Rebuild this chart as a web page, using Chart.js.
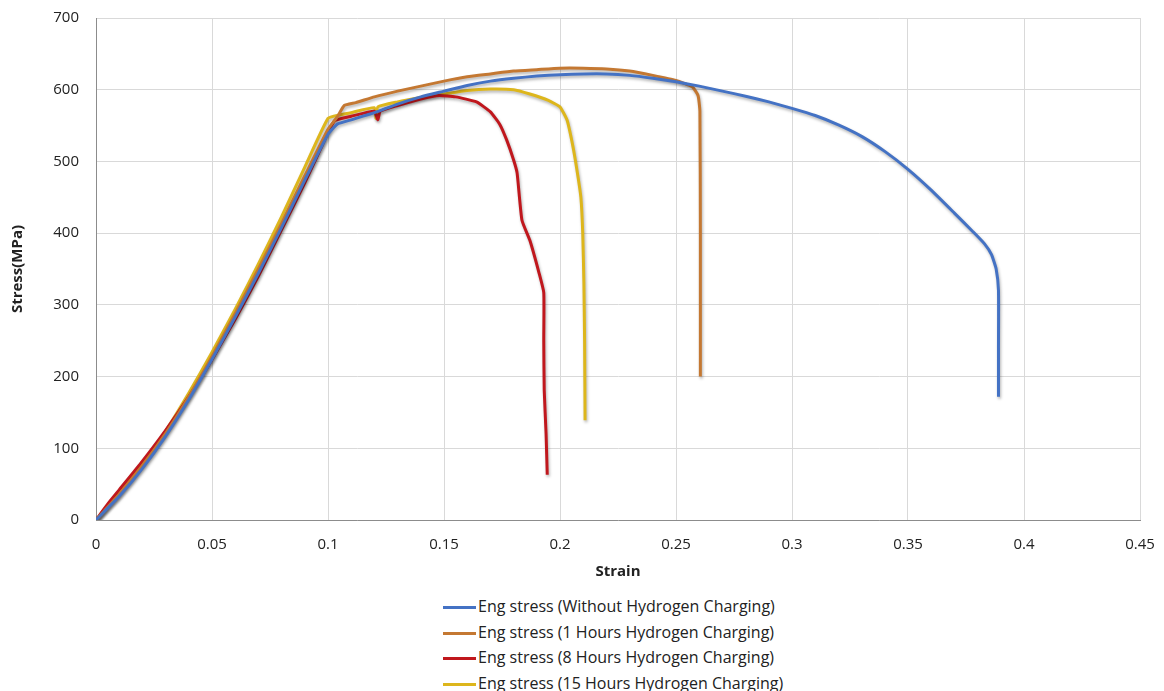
<!DOCTYPE html>
<html>
<head>
<meta charset="utf-8">
<script src="https://cdn.jsdelivr.net/npm/chart.js@4/dist/chart.umd.min.js"></script>
<style>
    body { margin: 0; background: #fff; font-family: "Open Sans", sans-serif; }
    #wrap { position: relative; width: 1164px; height: 590px; }
    #legend { position: absolute; left: 443px; top: 594px; font-size: 16px; color: #222; }
    .row { height: 25.6px; line-height: 25.6px; white-space: nowrap; }
    .row span.line { display: inline-block; width: 33px; height: 3px; vertical-align: middle; margin-right: 2px; }
</style>
</head>
<body>
<div id="wrap"><canvas id="chart"></canvas></div>
<div id="legend"></div>
<script>
// Eğriler (strain, stress MPa)
const blueStrain = [0, 0.01, 0.02, 0.03, 0.04, 0.05, 0.06, 0.07, 0.08, 0.09, 0.1, 0.104, 0.11, 0.12, 0.13, 0.14, 0.15, 0.16, 0.17, 0.18, 0.19, 0.2, 0.21, 0.22, 0.23, 0.24, 0.25, 0.26, 0.27, 0.28, 0.29, 0.3, 0.31, 0.32, 0.33, 0.34, 0.35, 0.36, 0.37, 0.378, 0.383, 0.386, 0.388, 0.389, 0.389, 0.389];
const blueStress = [0, 33, 72, 117, 168, 224, 283, 344, 408, 474, 538, 552, 558, 568, 580, 590, 598, 606, 612, 616, 619, 621, 622, 622, 620, 616, 611, 605, 598, 591, 583, 574, 564, 551, 535, 514, 489, 460, 428, 402, 385, 370, 350, 320, 240, 172];

const orangeStrain = [0, 0.01, 0.02, 0.03, 0.04, 0.05, 0.06, 0.07, 0.08, 0.09, 0.1, 0.104, 0.107, 0.112, 0.12, 0.13, 0.14, 0.15, 0.16, 0.17, 0.18, 0.19, 0.2, 0.21, 0.22, 0.23, 0.24, 0.25, 0.257, 0.2595, 0.2603, 0.2605, 0.2605];
const orangeStress = [0, 36, 76, 121, 172, 228, 288, 350, 414, 480, 545, 562, 578, 582, 590, 598, 605, 612, 618, 622, 626, 628, 630, 630, 629, 626, 620, 613, 604, 592, 570, 400, 200];

const redStrain = [0, 0.005, 0.01, 0.02, 0.03, 0.04, 0.05, 0.06, 0.07, 0.08, 0.09, 0.1, 0.103, 0.11, 0.12, 0.1215, 0.1225, 0.13, 0.14, 0.148, 0.155, 0.164, 0.17, 0.174, 0.177, 0.18, 0.1815, 0.1836, 0.187, 0.191, 0.193, 0.193, 0.1932, 0.194, 0.1945];
const redStress = [0, 22, 42, 82, 125, 172, 224, 280, 340, 405, 470, 540, 557, 563, 570, 558, 570, 578, 587, 592, 590, 583, 569, 552, 530, 502, 484, 418, 390, 344, 317, 250, 181, 120, 63];

const yellowStrain = [0, 0.01, 0.02, 0.03, 0.04, 0.05, 0.06, 0.07, 0.08, 0.09, 0.1, 0.105, 0.11, 0.12, 0.1207, 0.1215, 0.13, 0.14, 0.15, 0.16, 0.17, 0.18, 0.187, 0.195, 0.2, 0.203, 0.2055, 0.2075, 0.209, 0.2098, 0.2103, 0.2106, 0.2108];
const yellowStress = [0, 36, 78, 124, 177, 234, 294, 357, 423, 492, 560, 565, 568, 575, 560, 576, 583, 589, 594, 599, 601, 600, 594, 585, 576, 558, 522, 484, 450, 400, 330, 250, 139];

const seriesNames = [
    'Eng stress (Without Hydrogen Charging)',
    'Eng stress (1 Hours Hydrogen Charging)',
    'Eng stress (8 Hours Hydrogen Charging)',
    'Eng stress (15 Hours Hydrogen Charging)'
];
const xTickLabels = ['0', '0.05', '0.1', '0.15', '0.2', '0.25', '0.3', '0.35', '0.4', '0.45'];
const yTickLabels = ['0', '100', '200', '300', '400', '500', '600', '700'];

const renkler = ['#4472C4', '#C47832', '#C0171D', '#DDB61C'];

function noktalar(xs, ys) {
    return xs.map((x, i) => ({ x: x, y: ys[i] }));
}

const seriler = [
    noktalar(blueStrain, blueStress),
    noktalar(orangeStrain, orangeStress),
    noktalar(redStrain, redStress),
    noktalar(yellowStrain, yellowStress)
];

// Excel tarzı hafif gölge
const golgePlugin = {
    id: 'golge',
    beforeDatasetsDraw(chart) {
        let ctx = chart.ctx;
        ctx.save();
        ctx.shadowColor = 'rgba(0,0,0,0.3)';
        ctx.shadowBlur = 3;
        ctx.shadowOffsetX = 1;
        ctx.shadowOffsetY = 2;
    },
    afterDatasetsDraw(chart) {
        chart.ctx.restore();
    }
};

const fontAile = '"Open Sans", sans-serif';

const chart = new Chart(document.getElementById('chart'), {
    type: 'line',
    data: {
        datasets: seriler.map((d, i) => ({
            label: seriesNames[i],
            data: d,
            borderColor: renkler[i],
            backgroundColor: renkler[i],
            borderWidth: 3,
            pointRadius: 0,
            fill: false,
            tension: 0.15
        }))
    },
    options: {
        responsive: true,
        maintainAspectRatio: false,
        animation: false,
        layout: { padding: { top: 18, right: 24, left: 0, bottom: 0 } },
        plugins: {
            legend: { display: false },
            tooltip: { enabled: false }
        },
        scales: {
            x: {
                type: 'linear',
                min: 0,
                max: 0.45,
                ticks: {
                    stepSize: 0.05,
                    padding: 16,
                    color: '#222',
                    font: { family: fontAile, size: 15 },
                    callback: (v, i) => xTickLabels[i]
                },
                grid: { color: '#d9d9d9', drawTicks: false },
                border: { color: '#8c8c8c' },
                title: {
                    display: true,
                    text: 'Strain',
                    color: '#222',
                    font: { family: fontAile, size: 15, weight: 'bold' },
                    padding: { top: 0, bottom: 9 }
                },
                afterFit: s => { s.height = 70; s.paddingLeft = 0; s.paddingRight = 0; }
            },
            y: {
                min: 0,
                max: 700,
                ticks: {
                    stepSize: 100,
                    padding: 17,
                    color: '#222',
                    font: { family: fontAile, size: 15 },
                    callback: (v, i) => yTickLabels[i]
                },
                grid: { color: '#d9d9d9', drawTicks: false },
                border: { color: '#8c8c8c' },
                title: {
                    display: true,
                    text: 'Stress(MPa)',
                    color: '#222',
                    font: { family: fontAile, size: 15, weight: 'bold' },
                    padding: { top: 9, bottom: 0 }
                },
                afterFit: s => { s.width = 96; s.paddingTop = 0; s.paddingBottom = 0; }
            }
        }
    },
    plugins: [golgePlugin]
});

// Dikey lejant
let html = '';
chart.data.datasets.forEach(function(ds) {
    html += `<div class="row"><span class="line" style="background:${ds.borderColor}"></span>${ds.label}</div>`;
});
document.getElementById('legend').innerHTML = html;
</script>
</body>
</html>
